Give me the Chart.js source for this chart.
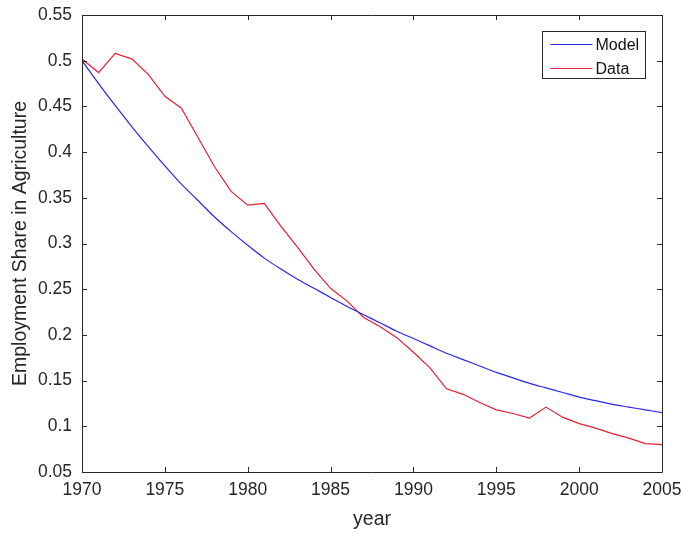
<!DOCTYPE html>
<html>
<head>
<meta charset="utf-8">
<script src="https://cdn.jsdelivr.net/npm/chart.js@4.4.0/dist/chart.umd.min.js"></script>
<style>
html,body{margin:0;padding:0;background:#fff;}
#c{display:block;}
</style>
</head>
<body>
<canvas id="c" width="683" height="533"></canvas>
<script>
const years = [1970,1971,1972,1973,1974,1975,1976,1977,1978,1979,1980,1981,1982,1983,1984,1985,1986,1987,1988,1989,1990,1991,1992,1993,1994,1995,1996,1997,1998,1999,2000,2001,2002,2003,2004,2005];
const modelShare = [0.500,0.475,0.451,0.428,0.406,0.385,0.365,0.347,0.329,0.313,0.298,0.284,0.272,0.261,0.251,0.241,0.231,0.222,0.213,0.204,0.196,0.188,0.180,0.173,0.166,0.159,0.153,0.147,0.142,0.137,0.132,0.128,0.124,0.121,0.118,0.115];
const dataShare = [0.502,0.487,0.508,0.502,0.485,0.461,0.448,0.416,0.384,0.357,0.342,0.344,0.319,0.296,0.272,0.251,0.237,0.219,0.209,0.197,0.181,0.164,0.141,0.135,0.126,0.118,0.114,0.109,0.121,0.110,0.103,0.098,0.092,0.087,0.081,0.080];
const xTickValues = [1970,1975,1980,1985,1990,1995,2000,2005];
const yTickValues = [0.05,0.10,0.15,0.20,0.25,0.30,0.35,0.40,0.45,0.50,0.55];
const seriesNames = ['Model','Data'];

const axisColor = '#262626';
const modelColor = 'rgb(40,40,235)';
const dataColor = 'rgb(232,30,50)';
const fontFamily = '"Liberation Sans", Arial, Helvetica, sans-serif';

const framePlugin = {
  id: 'matlabFrame',
  afterDraw(chart) {
    const ctx = chart.ctx;
    const {left, right, top, bottom} = chart.chartArea;
    const xs = chart.scales.x, ys = chart.scales.y;
    ctx.save();
    ctx.strokeStyle = axisColor;
    ctx.lineWidth = 1;
    ctx.beginPath();
    ctx.rect(Math.round(left) + 0.5, Math.round(top) + 0.5, Math.round(right - left), Math.round(bottom - top));
    ctx.stroke();
    const tl = 5;
    ctx.beginPath();
    xTickValues.forEach(v => {
      const px = Math.round(xs.getPixelForValue(v)) + 0.5;
      ctx.moveTo(px, bottom); ctx.lineTo(px, bottom - tl);
      ctx.moveTo(px, top); ctx.lineTo(px, top + tl);
    });
    yTickValues.forEach(v => {
      const py = Math.round(ys.getPixelForValue(v)) + 0.5;
      ctx.moveTo(left, py); ctx.lineTo(left + tl, py);
      ctx.moveTo(right, py); ctx.lineTo(right - tl, py);
    });
    ctx.stroke();
    // legend
    const bw = 103, bh = 47;
    const bx = Math.round(right - 17 - bw) + 0.5, by = Math.round(top + 16) + 0.5;
    ctx.fillStyle = '#fff';
    ctx.fillRect(bx, by, bw, bh);
    ctx.strokeStyle = axisColor;
    ctx.strokeRect(bx, by, bw, bh);
    ctx.font = '16px ' + fontFamily;
    ctx.textBaseline = 'middle';
    ctx.textAlign = 'left';
    chart.data.datasets.forEach((ds, i) => {
      const ly = Math.round(by + 12 + i * 24) + 0.5;
      ctx.strokeStyle = ds.borderColor;
      ctx.lineWidth = 1;
      ctx.beginPath();
      ctx.moveTo(bx + 8, ly); ctx.lineTo(bx + 50, ly);
      ctx.stroke();
      ctx.fillStyle = '#111';
      ctx.fillText(ds.label, bx + 53, ly + 1);
    });
    ctx.restore();
  }
};

new Chart(document.getElementById('c'), {
  type: 'line',
  data: {
    datasets: [
      { label: seriesNames[0], data: years.map((y, i) => ({x: y, y: modelShare[i]})), borderColor: modelColor, backgroundColor: modelColor, borderWidth: 1.2, pointRadius: 0, tension: 0.3, fill: false },
      { label: seriesNames[1], data: years.map((y, i) => ({x: y, y: dataShare[i]})), borderColor: dataColor, backgroundColor: dataColor, borderWidth: 1.2, pointRadius: 0, tension: 0, fill: false }
    ]
  },
  options: {
    responsive: false,
    animation: false,
    devicePixelRatio: 1,
    layout: { padding: { top: 15, right: 21, left: 0, bottom: 0 } },
    plugins: { legend: { display: false }, tooltip: { enabled: false } },
    scales: {
      x: {
        type: 'linear', min: 1970, max: 2005,
        afterBuildTicks: s => { s.ticks = xTickValues.map(v => ({value: v})); },
        afterFit: s => { s.height = 61; s.paddingLeft = 0; s.paddingRight = 0; },
        grid: { display: false, drawTicks: false },
        border: { display: false },
        ticks: { color: axisColor, font: { family: fontFamily, size: 17.5 }, padding: 8, maxRotation: 0, callback: v => String(v) },
        title: { display: true, text: 'year', color: axisColor, font: { family: fontFamily, size: 19.5 }, padding: { top: 2, bottom: 2 } }
      },
      y: {
        type: 'linear', min: 0.05, max: 0.55,
        afterBuildTicks: s => { s.ticks = yTickValues.map(v => ({value: v})); },
        afterFit: s => { s.width = 82; s.paddingTop = 0; s.paddingBottom = 0; },
        grid: { display: false, drawTicks: false },
        border: { display: false },
        ticks: { color: axisColor, font: { family: fontFamily, size: 17.5 }, padding: 10, callback: v => String(Number(v.toFixed(2))) },
        title: { display: true, text: 'Employment Share in Agriculture', color: axisColor, font: { family: fontFamily, size: 19.5 }, padding: { top: 9, bottom: 2 } }
      }
    }
  },
  plugins: [framePlugin]
});
</script>
</body>
</html>
